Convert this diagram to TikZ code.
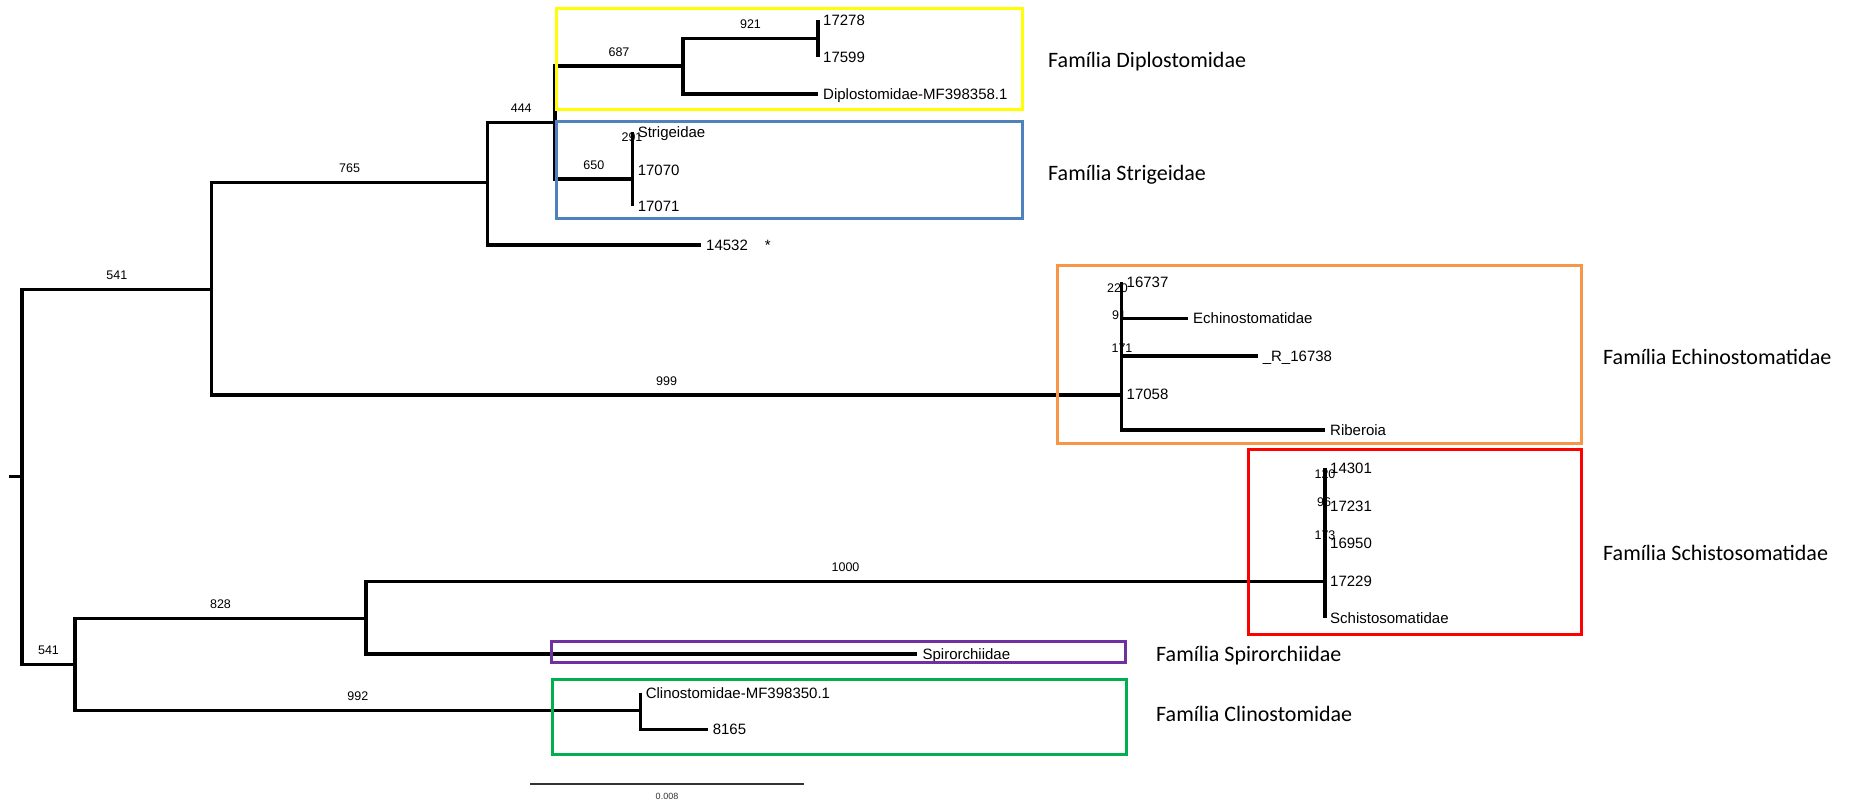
\documentclass[tikz,border=0pt]{standalone}
\usepackage{fontspec}
\setmainfont{Liberation Sans}
\newfontfamily\famfont{Carlito}
\usetikzlibrary{positioning}
\definecolor{famyellow}{RGB}{255,255,0}
\definecolor{famblue}{RGB}{79,129,189}
\definecolor{famorange}{RGB}{247,150,70}
\definecolor{famred}{RGB}{255,0,0}
\definecolor{fampurple}{RGB}{112,48,160}
\definecolor{famgreen}{RGB}{0,176,80}
\tikzstyle{branch} = [line width=3.5pt]
\tikzstyle{tip} = [anchor=west, inner xsep=5pt, inner ysep=0pt, text height=10.7pt, text depth=0pt, font=\fontsize{15}{18}\selectfont]
\tikzstyle{boot} = [inner sep=2pt, font=\fontsize{12.5}{15}\selectfont]
\tikzstyle{fambox} = [line width=3pt]
\tikzstyle{famlabel} = [anchor=west, inner sep=0pt, text height=14pt, text depth=0pt, font=\famfont\fontsize{22}{26}\selectfont]

\begin{document}
\begin{tikzpicture}[x=1pt, y=-1pt]
\useasboundingbox (0,0) rectangle (1854,803);

% Small support values on short branches
\node (b291) [boot] at (632,137) {291};
\node (b220) [boot] at (1117.5,287.7) {220};
\node (b91) [boot] at (1119,315) {91};
\node (b171) [boot] at (1122,348.3) {171};
\node (b120) [boot] at (1325,474) {120};
\node (b96) [boot] at (1324,502.3) {96};
\node (b173) [boot] at (1325,535) {173};

% Tips
\node (t17278) [tip] at (818,20) {17278};
\node (t17599) [tip] at (818,56.7) {17599};
\node (tDiplo) [tip] at (818,94) {Diplostomidae-MF398358.1};
\node (tStrig) [tip] at (632.6,131.7) {Strigeidae};
\node (t17070) [tip] at (632.6,170) {17070};
\node (t17071) [tip] at (632.6,206) {17071};
\node (t14532) [tip] at (701,245) {14532\hspace{17pt}*};
\node (t16737) [tip] at (1121.5,281.7) {16737};
\node (tEchino) [tip] at (1188,318.3) {Echinostomatidae};
\node (tR16738) [tip] at (1257.6,356) {\_R\_16738};
\node (t17058) [tip] at (1121.5,394) {17058};
\node (tRiberoia) [tip] at (1325,430) {Riberoia};
\node (t14301) [tip] at (1325,468) {14301};
\node (t17231) [tip] at (1325,506) {17231};
\node (t16950) [tip] at (1325,543) {16950};
\node (t17229) [tip] at (1325,581) {17229};
\node (tSchisto) [tip] at (1325,617.7) {Schistosomatidae};
\node (tSpiro) [tip] at (917.4,654) {Spirorchiidae};
\node (tClino) [tip] at (640.6,693) {Clinostomidae-MF398350.1};
\node (t8165) [tip] at (707.6,729.3) {8165};

% Internal nodes
\coordinate (rootstub) at (9,476.7);
\coordinate (root) at (22,476.7);
\coordinate (n541a) at (211.6,289.3);
\coordinate (n541b) at (75,664.3);
\coordinate (n765) at (487.5,182.7);
\coordinate (n999) at (1121.5,395);
\coordinate (n444) at (555,122.7);
\coordinate (n687) at (683,66);
\coordinate (n650) at (632.6,179);
\coordinate (n921) at (818,38.3);
\coordinate (n828) at (366,618.3);
\coordinate (n1000) at (1325,581.7);
\coordinate (n992) at (640.6,710.7);

% Branches
\draw [branch] (rootstub) -- (root);
\draw [branch] (root) |- node (b541a) [boot, pos=0.75, above=6pt] {541} (n541a);
\draw [branch] (root) |- node (b541b) [boot, pos=0.75, above=6pt] {541} (n541b);
\draw [branch] (n541a) |- node (b765) [boot, pos=0.75, above=6pt] {765} (n765);
\draw [branch] (n541a) |- node (b999) [boot, pos=0.75, above=6pt] {999} (n999);
\draw [branch] (n765) |- node (b444) [boot, pos=0.75, above=6pt] {444} (n444);
\draw [branch] (n765) |- (t14532.west);
\draw [branch] (n444) |- node (b687) [boot, pos=0.75, above=6pt] {687} (n687);
\draw [branch] (n444) |- node (b650) [boot, pos=0.75, above=6pt] {650} (n650);
\draw [branch] (n687) |- node (b921) [boot, pos=0.75, above=6pt] {921} (n921);
\draw [branch] (n687) |- (tDiplo.west);
\draw [branch] (n921) |- (t17278.west);
\draw [branch] (n921) |- (t17599.west);
\draw [branch] (n650) |- (tStrig.west);
\draw [branch] (n650) |- (t17070.west);
\draw [branch] (n650) |- (t17071.west);
\draw [branch] (n999) |- (t16737.west);
\draw [branch] (n999) |- (tEchino.west);
\draw [branch] (n999) |- (tR16738.west);
\draw [branch] (n999) |- (t17058.west);
\draw [branch] (n999) |- (tRiberoia.west);
\draw [branch] (n541b) |- node (b828) [boot, pos=0.75, above=6pt] {828} (n828);
\draw [branch] (n541b) |- node (b992) [boot, pos=0.75, above=6pt] {992} (n992);
\draw [branch] (n828) |- node (b1000) [boot, pos=0.75, above=6pt] {1000} (n1000);
\draw [branch] (n828) |- (tSpiro.west);
\draw [branch] (n1000) |- (t14301.west);
\draw [branch] (n1000) |- (t17231.west);
\draw [branch] (n1000) |- (t16950.west);
\draw [branch] (n1000) |- (t17229.west);
\draw [branch] (n1000) |- (tSchisto.west);
\draw [branch] (n992) |- (tClino.west);
\draw [branch] (n992) |- (t8165.west);

% Scale bar
\coordinate (sbL) at (530,784);
\coordinate (sbR) at (804,784);
\draw [line width=1.2pt, black!80] (sbL) -- node (sbText) [below=7pt, inner sep=2pt, font=\fontsize{9}{11}\selectfont] {0.008} (sbR);

% Family boxes
\draw [fambox, famyellow] (556,8.3) rectangle (1022,109);
\draw [fambox, famblue] (556,121.7) rectangle (1022,218.3);
\draw [fambox, famorange] (1057,265) rectangle (1581.7,443.3);
\draw [fambox, famred] (1248,449.3) rectangle (1581.7,634.3);
\draw [fambox, fampurple] (551.5,641.7) rectangle (1125,662.5);
\draw [fambox, famgreen] (552.5,679.3) rectangle (1126,754);

% Family labels
\node (fDiplo) [famlabel] at (1048,60) {Família Diplostomidae};
\node (fStrig) [famlabel] at (1048,173) {Família Strigeidae};
\node (fEchino) [famlabel] at (1603,357) {Família Echinostomatidae};
\node (fSchisto) [famlabel] at (1603,553) {Família Schistosomatidae};
\node (fSpiro) [famlabel] at (1156,654) {Família Spirorchiidae};
\node (fClino) [famlabel] at (1156,714) {Família Clinostomidae};

\end{tikzpicture}
\end{document}
